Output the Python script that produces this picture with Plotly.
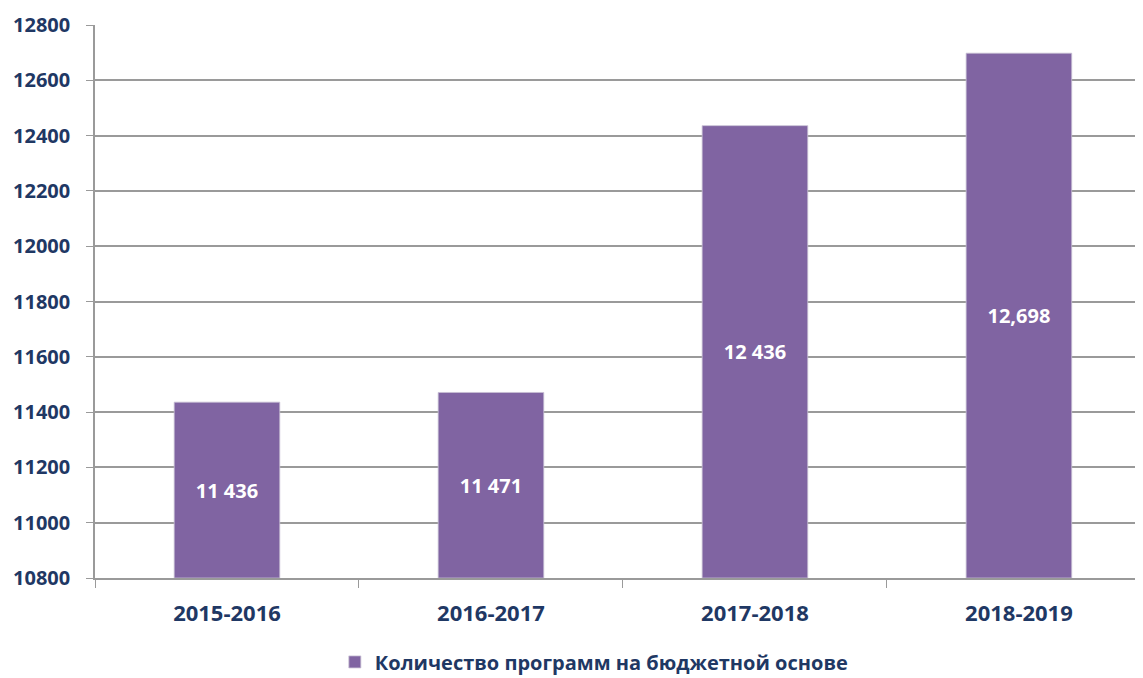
import plotly.graph_objects as go

categories = ["2015-2016", "2016-2017", "2017-2018", "2018-2019"]
values = [11436, 11471, 12436, 12698]
labels = ["11 436", "11 471", "12 436", "12,698"]
series_name = "Количество программ на бюджетной основе"
axis_min = 10800
axis_max = 12800

navy = "#1F3864"
purple = "#8064A2"
grid = "#9A9A9A"
font_family = "Open Sans, Lato, sans-serif"

fig = go.Figure(go.Bar(
    x=categories, y=[v - axis_min for v in values], base=axis_min, name=series_name,
    text=labels, textposition="inside", insidetextanchor="middle",
    textfont=dict(color="white", size=20, family=font_family, weight="bold"),
    marker=dict(color=purple, line=dict(color="#C8C0D4", width=0.8)),
    showlegend=True,
))

fig.update_layout(
    width=1135, height=670,
    margin=dict(l=87, r=0, t=17, b=100, autoexpand=False),
    paper_bgcolor="white", plot_bgcolor="white",
    bargap=0.6,
    font=dict(family=font_family, color=navy),
    showlegend=True,
    legend=dict(orientation="h", x=0.476, xanchor="center", yref="container",
                y=0.024, yanchor="middle",
                font=dict(size=20, color=navy, family=font_family, weight="bold"),
                itemwidth=30),
    xaxis=dict(range=[-0.5, 3.47], showline=True, linecolor=grid, linewidth=1.5,
               ticks="outside", tickson="boundaries", ticklen=8, tickcolor=grid,
               tickfont=dict(size=22, color=navy, family=font_family, weight="bold"),
               ticklabelstandoff=15, showgrid=False, automargin=False),
    yaxis=dict(range=[axis_min, axis_max], dtick=200, showline=True, linecolor=grid, linewidth=1.5,
               ticks="outside", ticklen=7, tickcolor=grid,
               showgrid=True, gridcolor=grid, gridwidth=1.5,
               tickfont=dict(size=20, color=navy, family=font_family, weight="bold"),
               ticklabelstandoff=12, automargin=False,
               tickformat="d", zeroline=False),
)

fig.write_html("out.html")
